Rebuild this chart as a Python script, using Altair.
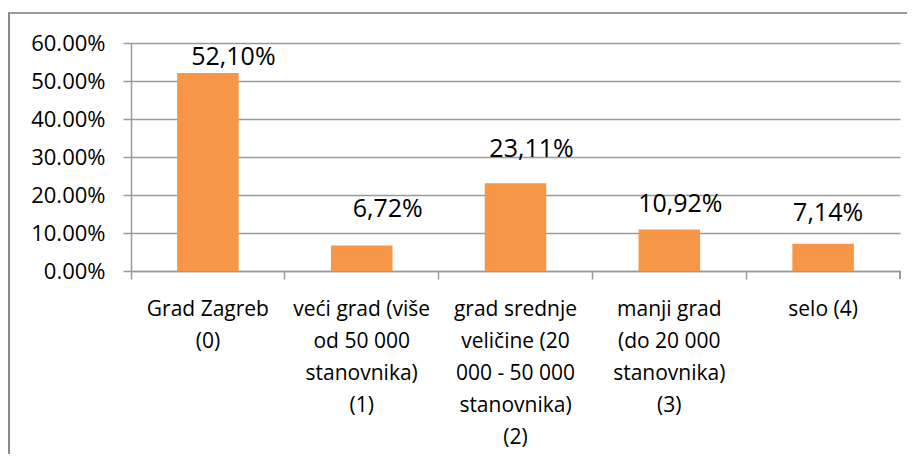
import altair as alt
import pandas as pd

# ---- data ----
categories = [
    "Grad Zagreb (0)",
    "veći grad (više od 50 000 stanovnika) (1)",
    "grad srednje veličine (20 000 - 50 000 stanovnika) (2)",
    "manji grad (do 20 000 stanovnika) (3)",
    "selo (4)",
]
# wrapped tick label lines (as Excel wrapped them)
category_lines = [
    "Grad Zagreb|(0)",
    "veći grad (više|od 50 000|stanovnika)|(1)",
    "grad srednje|veličine (20|000 - 50 000|stanovnika)|(2)",
    "manji grad|(do 20 000|stanovnika)|(3)",
    "selo (4)",
]
values = [52.10, 6.72, 23.11, 10.92, 7.14]
y_ticks = [0, 10, 20, 30, 40, 50, 60]

# ---- style: manually moved data labels (pixel offsets from bar top-centre) ----
label_dx = [25.5, 26, 16, 11, 5]
label_dy = [-8, -28.5, -26, -17.5, -23]

FONT = "Open Sans"
BAR = "#F79646"
GRID = "#9a9a9a"

df = pd.DataFrame({
    "cat": categories,
    "lines": category_lines,
    "value": values,
    "label": [f"{v:.2f}".replace(".", ",") + "%" for v in values],
})

label_map = {c: l for c, l in zip(categories, category_lines)}
label_expr = "split({" + ",".join(f"'{c}':'{l}'" for c, l in label_map.items()) + "}[datum.label], '|')"

W, H = 769, 228

x_enc = alt.X(
    "cat:N",
    sort=categories,
    title=None,
    scale=alt.Scale(paddingInner=0, paddingOuter=0),
    axis=alt.Axis(
        labelExpr=label_expr,
        labelAngle=0,
        labelFont=FONT,
        labelFontSize=21,
        labelColor="#000000",
        labelLineHeight=32,
        labelPadding=19,
        labelBaseline="top",
        labelLimit=200,
        labelOverlap=False,
        bandPosition=0,
        tickSize=8,
        tickColor=GRID,
        tickWidth=1.5,
        domainColor=GRID,
        domainWidth=1.5,
        grid=False,
    ),
)

y_enc = alt.Y(
    "value:Q",
    title=None,
    scale=alt.Scale(domain=[0, 60], nice=False),
    axis=alt.Axis(
        values=y_ticks,
        labelExpr="format(datum.value, '.2f') + '%'",
        labelFont=FONT,
        labelFontSize=22,
        labelColor="#000000",
        labelPadding=18,
        labelOverlap=False,
        tickSize=8,
        tickColor=GRID,
        tickWidth=1.5,
        domainColor=GRID,
        domainWidth=1.5,
        grid=True,
        gridColor=GRID,
        gridWidth=1.5,
    ),
)

base = alt.Chart(df)

bars = base.mark_bar(color=BAR, width=alt.RelativeBandSize(0.4)).encode(x=x_enc, y=y_enc)

texts = []
for i, c in enumerate(categories):
    texts.append(
        base.transform_filter(alt.datum.cat == c)
        .mark_text(font=FONT, fontSize=25, color="#000000", baseline="alphabetic",
                   align="center", dx=label_dx[i], dy=label_dy[i])
        .encode(x=x_enc, y=y_enc, text="label:N")
    )

# right-end x tick
end_tick = base.mark_rule(color=GRID, strokeWidth=1.5).encode(
    x=alt.value(W), y=alt.value(H), y2=alt.value(H + 8)
)
# chart-area border (top and left visible)
border_top = base.mark_rule(color="#9a9a9a", strokeWidth=1.5).encode(
    x=alt.value(-123), x2=alt.value(W + 40), y=alt.value(-30)
)
border_left = base.mark_rule(color="#888888", strokeWidth=2).encode(
    x=alt.value(-122.5), y=alt.value(-30), y2=alt.value(H + 250)
)

chart = alt.layer(bars, *texts, end_tick, border_top, border_left).properties(
    width=W,
    height=H,
    autosize=alt.AutoSizeParams(type="none"),
    padding={"left": 123, "top": 35, "right": 7, "bottom": 183},
).configure_view(stroke=None)

chart.save("out.html", embed_options={"renderer": "svg", "actions": False})
